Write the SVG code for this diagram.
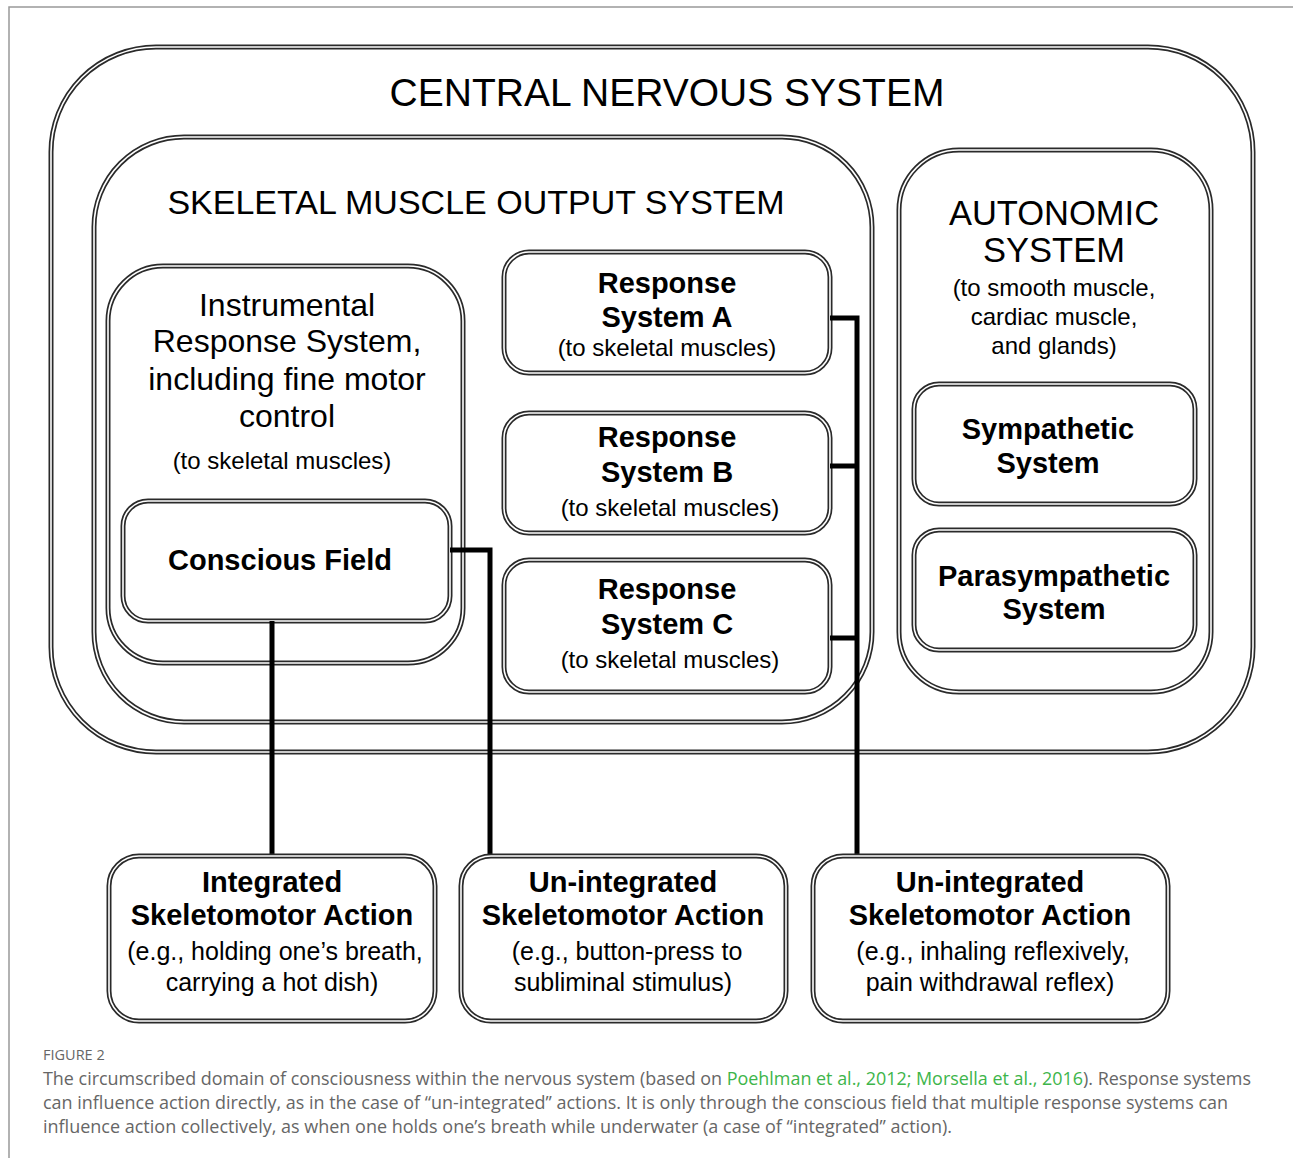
<svg xmlns="http://www.w3.org/2000/svg" width="1293" height="1158" viewBox="0 0 1293 1158">
<style>
.o{fill:none;stroke:#2a2a2a;stroke-width:5}
.i{fill:none;stroke:#fff;stroke-width:1.6}
.t{font-family:"Liberation Sans",Arial,sans-serif;fill:#000;text-anchor:middle}
.b{font-weight:bold}
.c{fill:none;stroke:#000;stroke-width:5;stroke-linejoin:miter}
.cap{font-family:"Open Sans","Liberation Sans",sans-serif;fill:#666}
</style>
<rect width="1293" height="1158" fill="#fff"/>
<path d="M9,1158 V7 H1293" fill="none" stroke="#999" stroke-width="1.5"/>

<g id="cns">
<rect class="o" x="51" y="47" width="1202" height="705" rx="105"/>
<rect class="i" x="51" y="47" width="1202" height="705" rx="105"/>
<text class="t" x="667" y="106" font-size="39">CENTRAL NERVOUS SYSTEM</text>
</g>

<g id="skeletal">
<rect class="o" x="94" y="137" width="778" height="585" rx="90"/>
<rect class="i" x="94" y="137" width="778" height="585" rx="90"/>
<text class="t" x="476" y="214" font-size="34">SKELETAL MUSCLE OUTPUT SYSTEM</text>
</g>

<g id="instrumental">
<rect class="o" x="108" y="266" width="355" height="397" rx="55"/>
<rect class="i" x="108" y="266" width="355" height="397" rx="55"/>
<text class="t" font-size="32"><tspan x="287" y="316">Instrumental</tspan><tspan x="287" y="352">Response System,</tspan><tspan x="287" y="390">including fine motor</tspan><tspan x="287" y="427">control</tspan></text>
<text class="t" x="282" y="469" font-size="24">(to skeletal muscles)</text>
</g>

<g id="conscious">
<rect class="o" x="123" y="501" width="327" height="120" rx="25"/>
<rect class="i" x="123" y="501" width="327" height="120" rx="25"/>
<text class="t b" x="280" y="570" font-size="29">Conscious Field</text>
</g>

<g id="respA">
<rect class="o" x="504" y="252" width="326" height="121" rx="25"/>
<rect class="i" x="504" y="252" width="326" height="121" rx="25"/>
<text class="t b" font-size="29"><tspan x="667" y="293">Response</tspan><tspan x="667" y="327">System A</tspan></text>
<text class="t" x="667" y="356" font-size="24">(to skeletal muscles)</text>
</g>

<g id="respB">
<rect class="o" x="504" y="413" width="326" height="120" rx="25"/>
<rect class="i" x="504" y="413" width="326" height="120" rx="25"/>
<text class="t b" font-size="29"><tspan x="667" y="447">Response</tspan><tspan x="667" y="482">System B</tspan></text>
<text class="t" x="670" y="516" font-size="24">(to skeletal muscles)</text>
</g>

<g id="respC">
<rect class="o" x="504" y="560" width="326" height="132" rx="25"/>
<rect class="i" x="504" y="560" width="326" height="132" rx="25"/>
<text class="t b" font-size="29"><tspan x="667" y="599">Response</tspan><tspan x="667" y="634">System C</tspan></text>
<text class="t" x="670" y="668" font-size="24">(to skeletal muscles)</text>
</g>

<g id="autonomic">
<rect class="o" x="899" y="150" width="312" height="542" rx="60"/>
<rect class="i" x="899" y="150" width="312" height="542" rx="60"/>
<text class="t" font-size="34.5"><tspan x="1054" y="225">AUTONOMIC</tspan><tspan x="1054" y="262">SYSTEM</tspan></text>
<text class="t" font-size="24"><tspan x="1054" y="296">(to smooth muscle,</tspan><tspan x="1054" y="325">cardiac muscle,</tspan><tspan x="1054" y="354">and glands)</tspan></text>
</g>

<g id="sympathetic">
<rect class="o" x="914" y="384" width="281" height="120" rx="25"/>
<rect class="i" x="914" y="384" width="281" height="120" rx="25"/>
<text class="t b" font-size="29"><tspan x="1048" y="439">Sympathetic</tspan><tspan x="1048" y="473">System</tspan></text>
</g>

<g id="parasympathetic">
<rect class="o" x="914" y="530" width="281" height="120" rx="25"/>
<rect class="i" x="914" y="530" width="281" height="120" rx="25"/>
<text class="t b" font-size="29"><tspan x="1054" y="586">Parasympathetic</tspan><tspan x="1054" y="619">System</tspan></text>
</g>

<g id="connectors">
<path class="c" d="M272,621 V858"/>
<path class="c" d="M450,550 H490 V858"/>
<path class="c" d="M830,318 H857 V858"/>
<path class="c" d="M830,466 H857" stroke-width="4"/>
<path class="c" d="M830,638 H857"/>
</g>

<g id="integrated">
<rect class="o" x="109" y="856" width="326" height="165" rx="30"/>
<rect class="i" x="109" y="856" width="326" height="165" rx="30"/>
<text class="t b" font-size="29"><tspan x="272" y="892">Integrated</tspan><tspan x="272" y="925">Skeletomotor Action</tspan></text>
<text class="t" font-size="25"><tspan x="275" y="960">(e.g., holding one’s breath,</tspan><tspan x="272" y="991">carrying a hot dish)</tspan></text>
</g>

<g id="unintegrated1">
<rect class="o" x="461" y="856" width="325" height="165" rx="30"/>
<rect class="i" x="461" y="856" width="325" height="165" rx="30"/>
<text class="t b" font-size="29"><tspan x="623" y="892">Un-integrated</tspan><tspan x="623" y="925">Skeletomotor Action</tspan></text>
<text class="t" font-size="25"><tspan x="627" y="960">(e.g., button-press to</tspan><tspan x="623" y="991">subliminal stimulus)</tspan></text>
</g>

<g id="unintegrated2">
<rect class="o" x="813" y="856" width="355" height="165" rx="30"/>
<rect class="i" x="813" y="856" width="355" height="165" rx="30"/>
<text class="t b" font-size="29"><tspan x="990" y="892">Un-integrated</tspan><tspan x="990" y="925">Skeletomotor Action</tspan></text>
<text class="t" font-size="25"><tspan x="993" y="960">(e.g., inhaling reflexively,</tspan><tspan x="990" y="991">pain withdrawal reflex)</tspan></text>
</g>

<g id="caption">
<text class="cap" x="43" y="1060" font-size="14.5" fill="#555">FIGURE 2</text>
<text class="cap" x="43" y="1085" font-size="17.5" textLength="1208" lengthAdjust="spacingAndGlyphs">The circumscribed domain of consciousness within the nervous system (based on <tspan fill="#3db54a">Poehlman et al., 2012; Morsella et al., 2016</tspan>). Response systems</text>
<text class="cap" x="43" y="1109" font-size="17.5" textLength="1185" lengthAdjust="spacingAndGlyphs">can influence action directly, as in the case of “un-integrated” actions. It is only through the conscious field that multiple response systems can</text>
<text class="cap" x="43" y="1133" font-size="17.5" textLength="909" lengthAdjust="spacingAndGlyphs">influence action collectively, as when one holds one’s breath while underwater (a case of “integrated” action).</text>
</g>
</svg>
